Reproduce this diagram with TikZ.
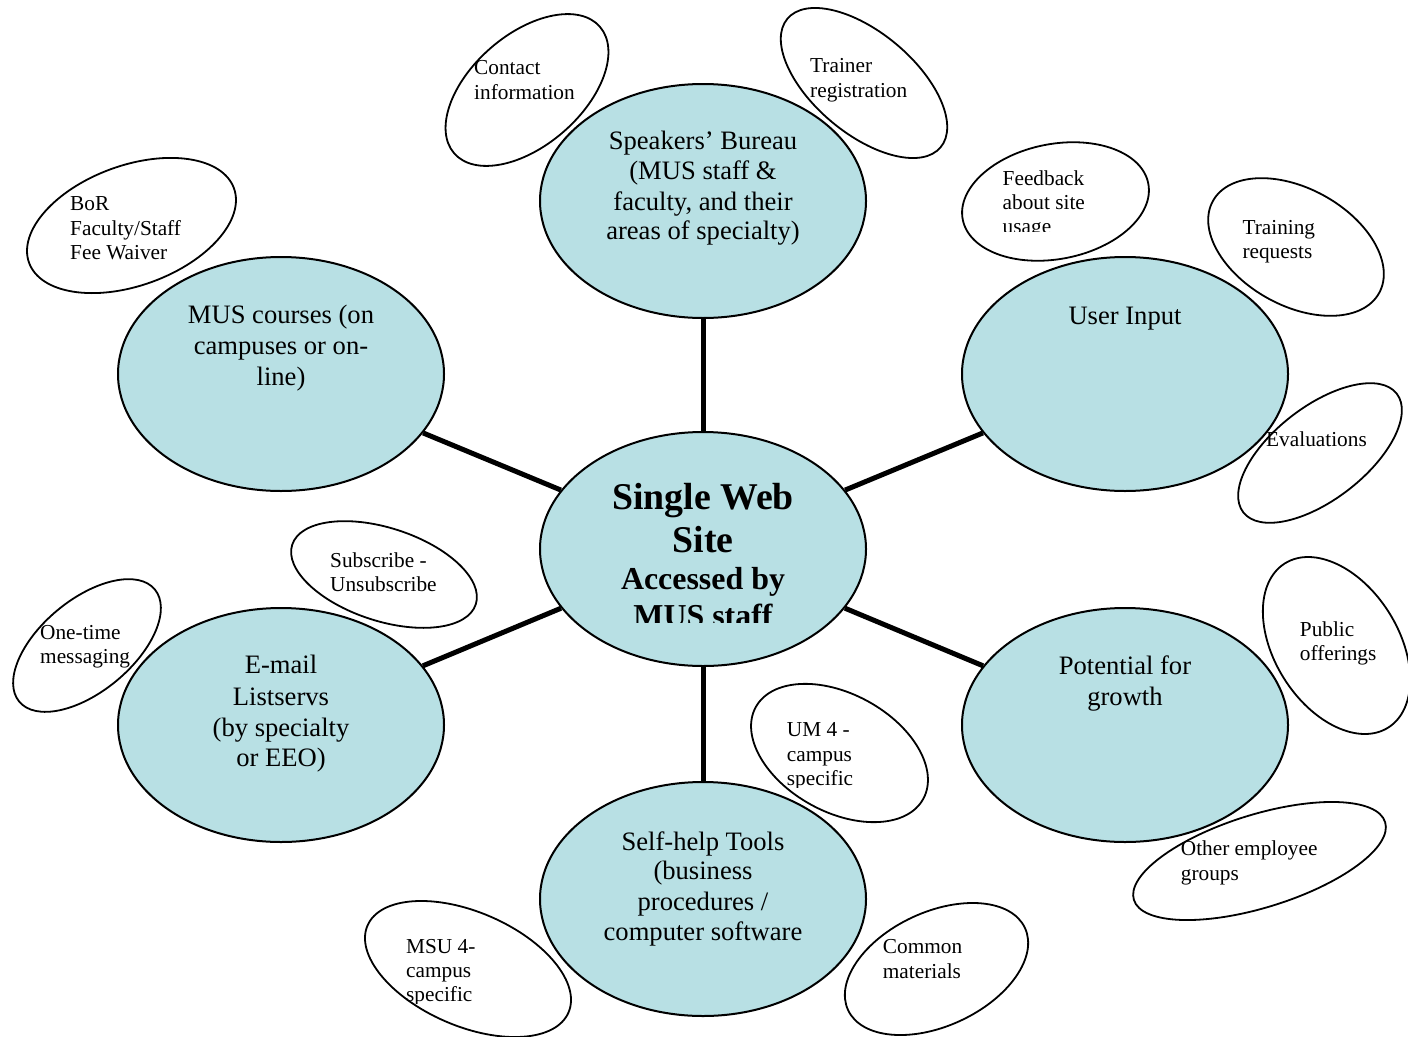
\documentclass[tikz,border=0pt]{standalone}
\usepackage{fontspec}
\setmainfont{Liberation Serif}[Ligatures=NoCommon]
\usetikzlibrary{shapes.geometric}
\definecolor{teallight}{RGB}{184,224,228}
\tikzset{
  big/.style={ellipse, draw=black, line width=2pt, fill=teallight, minimum width=326pt, minimum height=234pt, inner sep=0pt},
  small/.style={ellipse, draw=black, line width=1.8pt, fill=white, inner sep=0pt},
  link/.style={line width=5pt, draw=black},
  bt/.style={font=\fontsize{26.6}{30}\selectfont, anchor=base, inner sep=0pt},
  st/.style={font=\fontsize{21.3}{24}\selectfont, anchor=base west, inner sep=0pt},
  ct/.style={font=\bfseries\fontsize{37.8}{42}\selectfont, anchor=base, inner sep=0pt},
  cts/.style={font=\bfseries\fontsize{31.9}{36}\selectfont, anchor=base, inner sep=0pt},
}
\begin{document}
\begin{tikzpicture}[x=1pt, y=-1pt]
\useasboundingbox (0,0) rectangle (1408,1036);

% small ellipses
\node[small, rotate=41,   minimum width=193pt, minimum height=111pt] (contactE) at (527,90) {};
\node[small, rotate=-40,  minimum width=200pt, minimum height=101pt] (trainerE) at (864,83) {};
\node[small, rotate=11,   minimum width=189pt, minimum height=115pt] (feedbackE) at (1055.5,201.5) {};
\node[small, rotate=-29,  minimum width=190pt, minimum height=117pt] (trainingE) at (1296,247) {};
\node[small, rotate=37.7, minimum width=194pt, minimum height=93pt] (evalE) at (1320,453) {};
\node[small, rotate=20,   minimum width=218pt, minimum height=120pt] (borE) at (131.5,225.5) {};
\node[small, rotate=-18,  minimum width=193pt, minimum height=93pt] (subE) at (384,574.5) {};
\node[small, rotate=39.6, minimum width=176pt, minimum height=92pt] (oneE) at (87,645.5) {};
\node[small, rotate=-28.7,minimum width=191pt, minimum height=118pt] (umE) at (839.5,753) {};
\node[small, rotate=-23.4,minimum width=219pt, minimum height=114pt] (msuE) at (468,969) {};
\node[small, rotate=24.9, minimum width=195pt, minimum height=114pt] (commonE) at (936.5,969) {};
\node[small, rotate=-57.8,minimum width=194pt, minimum height=124pt] (publicE) at (1336.5,645.5) {};
\node[small, rotate=17.2, minimum width=263pt, minimum height=93pt] (otherE) at (1259.5,861) {};

% big ellipses
\node[big] (speakers) at (703,201) {};
\node[big] (mus) at (281,374) {};
\node[big] (user) at (1125,374) {};
\node[big] (central) at (703,549) {};
\node[big] (email) at (281,725) {};
\node[big] (potential) at (1125,725) {};
\node[big] (selfhelp) at (703,899) {};

% connectors
\draw[link] (central) -- (speakers);
\draw[link] (central) -- (mus);
\draw[link] (central) -- (user);
\draw[link] (central) -- (email);
\draw[link] (central) -- (potential);
\draw[link] (central) -- (selfhelp);

% big texts
\node[bt] (spk1) at (703,149.3) {Speakers’ Bureau};
\node[bt] (spk2) at (703,179.5) {(MUS staff \&};
\node[bt] (spk3) at (703,210) {faculty, and their};
\node[bt] (spk4) at (703,239.5) {areas of specialty)};

\node[bt] (mus1) at (281,323.3) {MUS courses (on};
\node[bt] (mus2) at (281,354) {campuses or on-};
\node[bt] (mus3) at (281,385) {line)};

\node[bt] (user1) at (1125,324) {User Input};

\node[ct] (cen1) at (703,509.3) {Single Web};
\node[ct] (cen2) at (703,552.3) {Site};
\node[cts] (cen3) at (703,589) {Accessed by};
\begin{scope}
  \clip (600,592) rectangle (806,622.5);
  \node[cts] (cen4) at (703,626) {MUS staff};
\end{scope}

\node[bt] (em1) at (281,673.3) {E-mail};
\node[bt] (em2) at (281,705) {Listservs};
\node[bt] (em3) at (281,736.7) {(by specialty};
\node[bt] (em4) at (281,766.7) {or EEO)};

\node[bt] (pot1) at (1125,674) {Potential for};
\node[bt] (pot2) at (1125,705) {growth};

\node[bt] (sh1) at (703,850) {Self-help Tools};
\node[bt] (sh2) at (703,879.5) {(business};
\node[bt] (sh3) at (703,910.5) {procedures /};
\node[bt] (sh4) at (703,940.5) {computer software};

% small texts
\node[st] (ct1) at (474,74) {Contact};
\node[st] (ct2) at (474,99) {information};

\node[st] (tr1) at (810,72) {Trainer};
\node[st] (tr2) at (810,97) {registration};

\node[st] (bor1) at (70,210.5) {BoR};
\node[st] (bor2) at (70,235) {Faculty/Staff};
\node[st] (bor3) at (70,259.5) {Fee Waiver};

\node[st] (fb1) at (1002.5,185.7) {Feedback};
\node[st] (fb2) at (1002.5,209.5) {about site};
\begin{scope}
  \clip (990,212) rectangle (1120,231.7);
  \node[st] (fb3) at (1002.5,233.5) {usage};
\end{scope}

\node[st] (trq1) at (1242.3,234.3) {Training};
\node[st] (trq2) at (1242.3,258.3) {requests};

\node[st] (ev1) at (1266,446.7) {Evaluations};

\node[st] (sub1) at (330,567.7) {Subscribe -};
\node[st] (sub2) at (330,591.7) {Unsubscribe};

\node[st] (one1) at (40,639) {One-time};
\node[st] (one2) at (40,663.3) {messaging};

\node[st] (pub1) at (1299.7,636) {Public};
\node[st] (pub2) at (1299.7,660) {offerings};

\node[st] (um1) at (786.7,736.7) {UM 4 -};
\node[st] (um2) at (786.7,761.7) {campus};
\begin{scope}
  \clip (770,765) rectangle (880,787);
  \node[st] (um3) at (786.7,785.7) {specific};
\end{scope}

\node[st] (oth1) at (1180.7,855) {Other employee};
\node[st] (oth2) at (1180.7,880) {groups};

\node[st] (msu1) at (406,953.3) {MSU 4-};
\node[st] (msu2) at (406,977.3) {campus};
\begin{scope}
  \clip (390,981) rectangle (500,1003);
  \node[st] (msu3) at (406,1001.7) {specific};
\end{scope}

\node[st] (com1) at (882.7,953.3) {Common};
\node[st] (com2) at (882.7,978.3) {materials};
\end{tikzpicture}
\end{document}
